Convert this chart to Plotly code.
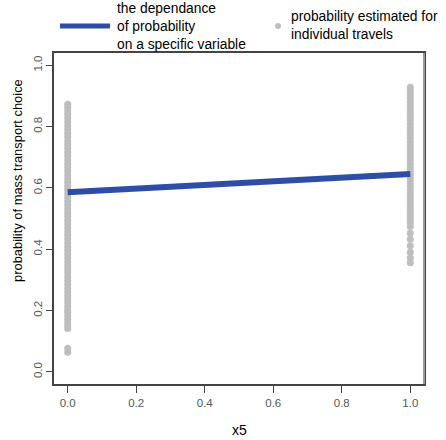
import plotly.graph_objects as go

# Estimated probabilities for individual travels, x5 = 0
p_x0 = [0.873, 0.862, 0.851, 0.840, 0.828, 0.815, 0.803, 0.790, 0.778, 0.766,
        0.752, 0.741, 0.729, 0.716, 0.704, 0.691, 0.679, 0.667, 0.655, 0.642,
        0.630, 0.618, 0.605, 0.593, 0.581, 0.569, 0.556, 0.544, 0.531, 0.519,
        0.507, 0.494, 0.482, 0.470, 0.457, 0.445, 0.433, 0.420, 0.408, 0.396,
        0.383, 0.371, 0.359, 0.346, 0.334, 0.322, 0.309, 0.297, 0.285, 0.272,
        0.260, 0.248, 0.236, 0.224, 0.212, 0.201, 0.193, 0.182, 0.171, 0.160,
        0.150, 0.141, 0.077, 0.064]
# Estimated probabilities for individual travels, x5 = 1
p_x1 = [0.928, 0.917, 0.905, 0.893, 0.881, 0.869, 0.857, 0.845, 0.833, 0.821,
        0.809, 0.797, 0.785, 0.773, 0.761, 0.749, 0.737, 0.725, 0.713, 0.701,
        0.689, 0.677, 0.665, 0.653, 0.641, 0.629, 0.617, 0.605, 0.593, 0.581,
        0.569, 0.557, 0.545, 0.533, 0.521, 0.509, 0.497, 0.486, 0.474, 0.452,
        0.432, 0.411, 0.390, 0.371, 0.356]

# Fitted dependence of probability on x5
x5_grid = [0.0, 0.1, 0.2, 0.3, 0.4, 0.5, 0.6, 0.7, 0.8, 0.9, 1.0]
p_fit = [0.586, 0.592, 0.598, 0.604, 0.610, 0.616, 0.622, 0.628, 0.634, 0.639, 0.645]

x_ticks = [0.0, 0.2, 0.4, 0.6, 0.8, 1.0]
y_ticks = [0.0, 0.2, 0.4, 0.6, 0.8, 1.0]

GRAY = "#BEBEBE"
BLUE = "#2E4DA7"
FONT = "Liberation Sans, Arial, sans-serif"

fig = go.Figure()
fig.add_trace(go.Scatter(
    x=[0.0] * len(p_x0) + [1.0] * len(p_x1), y=p_x0 + p_x1,
    mode="markers", marker=dict(color=GRAY, size=7, line=dict(width=0)),
    showlegend=False, hoverinfo="skip"))
fig.add_trace(go.Scatter(
    x=x5_grid, y=p_fit, mode="lines",
    line=dict(color=BLUE, width=6), showlegend=False))

tickfont = dict(family=FONT, size=11.5, color="#555555")
fig.update_xaxes(range=[-0.04, 1.04], tickvals=x_ticks,
                 ticktext=[f"{v:.1f}" for v in x_ticks],
                 ticks="outside", ticklen=7, tickcolor="#444444", tickwidth=1,
                 showline=True, linecolor="#444444", linewidth=1.5, mirror=True,
                 showgrid=False, zeroline=False, tickfont=tickfont)
fig.update_yaxes(range=[-0.04, 1.04], tickvals=y_ticks,
                 ticktext=[f"{v:.1f}" for v in y_ticks], tickangle=-90,
                 ticks="outside", ticklen=6, tickcolor="#444444", tickwidth=1,
                 showline=True, linecolor="#444444", linewidth=1.5, mirror=True,
                 showgrid=False, zeroline=False, tickfont=tickfont)

shapes = [
    # right border slightly lighter, as in the reference
    dict(type="line", xref="paper", yref="paper", x0=1, x1=1, y0=0, y1=1,
         line=dict(color="#999999", width=2)),
]
# manual legend (paper coordinates: plot area x 54-424, y 53-384)
W, H = 370.0, 331.0
def px(x):
    return (x - 54) / W
def py(y):
    return (384 - y) / H
shapes.append(dict(type="line", xref="paper", yref="paper",
                   x0=px(60), x1=px(110), y0=py(26), y1=py(26),
                   line=dict(color=BLUE, width=5)))
shapes.append(dict(type="circle", xref="paper", yref="paper",
                   x0=px(275), x1=px(281), y0=py(23), y1=py(29),
                   fillcolor=GRAY, line=dict(width=0)))

annotations = [
    dict(text="the dependance<br>of probability<br>on a specific variable",
         xref="paper", yref="paper", x=px(115), y=py(27), xanchor="left",
         yanchor="middle", align="left", showarrow=False,
         font=dict(family=FONT, size=13.8, color="#000000")),
    dict(text="probability estimated for<br>individual travels",
         xref="paper", yref="paper", x=px(289), y=py(26), xanchor="left",
         yanchor="middle", align="left", showarrow=False,
         font=dict(family=FONT, size=13.8, color="#000000")),
    dict(text="x5", xref="paper", yref="paper", x=px(239), y=py(430),
         xanchor="center", yanchor="middle", showarrow=False,
         font=dict(family=FONT, size=14, color="#000000")),
    dict(text="probability of mass transport choice", xref="paper", yref="paper",
         x=px(17), y=py(181), xanchor="center", yanchor="middle", textangle=-90,
         showarrow=False, font=dict(family=FONT, size=12.9, color="#000000")),
]

fig.update_layout(
    width=446, height=440,
    margin=dict(l=54, r=22, t=53, b=56),
    paper_bgcolor="white", plot_bgcolor="white",
    shapes=shapes, annotations=annotations,
    showlegend=False,
)
fig.write_html("out.html")
